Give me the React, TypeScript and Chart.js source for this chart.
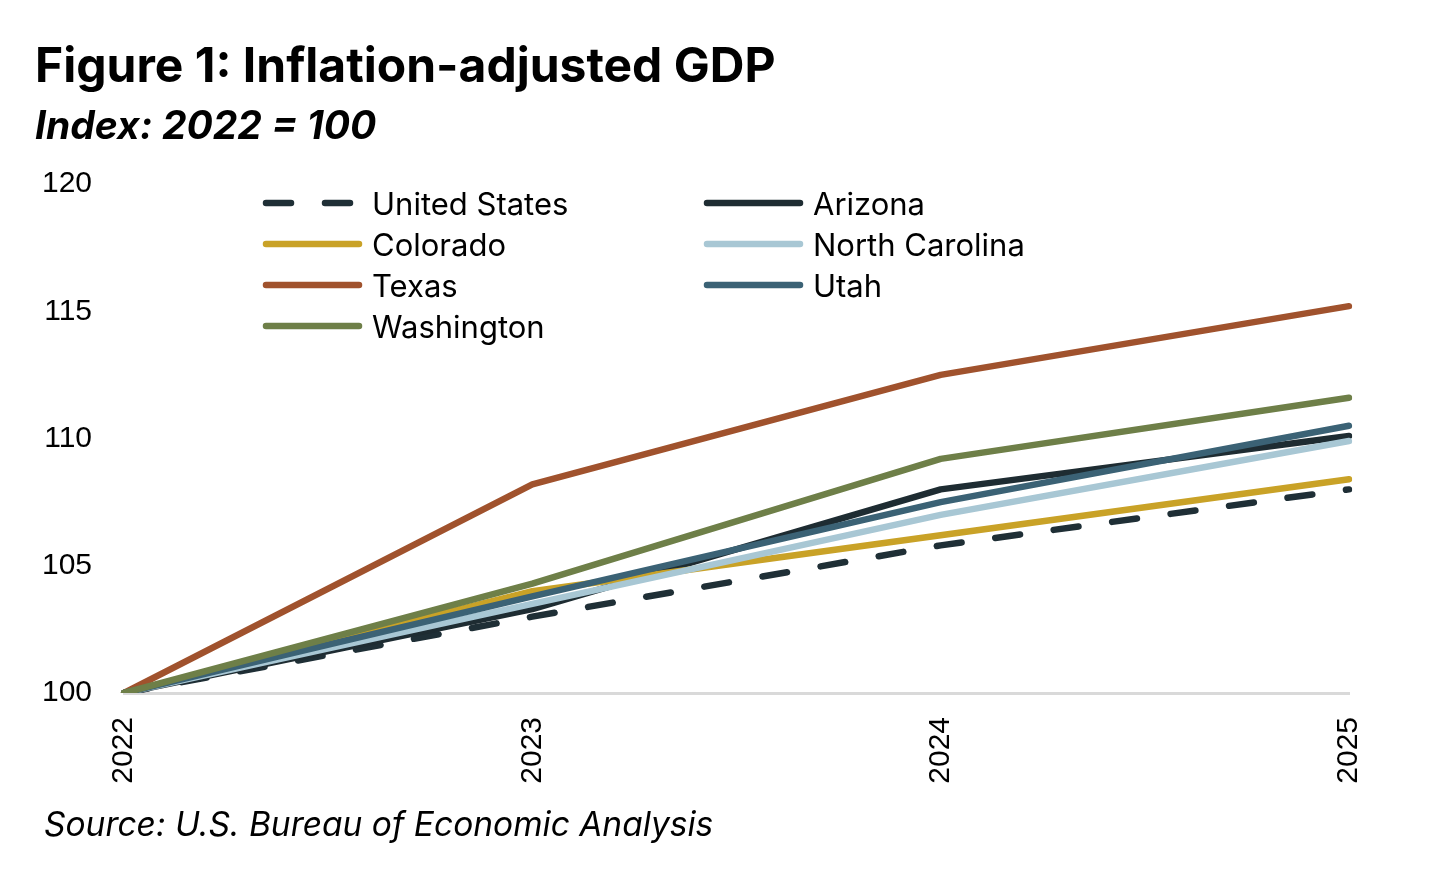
import { useEffect, useRef } from "react";
import { Chart, registerables } from "chart.js";

Chart.register(...registerables);

const YEARS = ["2022", "2023", "2024", "2025"];
const UNITED_STATES = [100, 103.0, 105.8, 108.0];
const ARIZONA = [100, 103.3, 108.0, 110.1];
const COLORADO = [100, 104.0, 106.2, 108.4];
const NORTH_CAROLINA = [100, 103.5, 107.0, 109.9];
const TEXAS = [100, 108.2, 112.5, 115.2];
const UTAH = [100, 103.8, 107.5, 110.5];
const WASHINGTON = [100, 104.3, 109.2, 111.6];
const Y_TICKS = [100, 105, 110, 115, 120];

// legend order (row by row, two columns) = drawing order, last on top
const SERIES = [
  { label: "United States", data: UNITED_STATES, color: "#1f2f36", dashed: true },
  { label: "Arizona", data: ARIZONA, color: "#1e2c32", dashed: false },
  { label: "Colorado", data: COLORADO, color: "#c9a227", dashed: false },
  { label: "North Carolina", data: NORTH_CAROLINA, color: "#a8c7d4", dashed: false },
  { label: "Texas", data: TEXAS, color: "#a0522d", dashed: false },
  { label: "Utah", data: UTAH, color: "#3b6275", dashed: false },
  { label: "Washington", data: WASHINGTON, color: "#6e7f48", dashed: false },
];

const LINE_W = 6.5;
const TICK_FONT = { family: "'Liberation Sans', Arial, sans-serif", size: 30 };
const TEXT_FONT = "Inter, 'Noto Sans', sans-serif";

function LegendSwatch({ color, dashed }: { color: string; dashed: boolean }) {
  return (
    <svg width={102} height={12} style={{ display: "block" }}>
      <line
        x1={4}
        y1={6}
        x2={97}
        y2={6}
        stroke={color}
        strokeWidth={LINE_W}
        strokeLinecap="round"
        strokeDasharray={dashed ? "25 34" : undefined}
      />
    </svg>
  );
}

export default function App() {
  const canvasRef = useRef<HTMLCanvasElement>(null);

  useEffect(() => {
    if (!canvasRef.current) return;
    const chart = new Chart(canvasRef.current, {
      type: "line",
      data: {
        labels: YEARS,
        datasets: SERIES.map((s, i) => ({
          label: s.label,
          data: s.data,
          borderColor: s.color,
          backgroundColor: s.color,
          borderWidth: LINE_W,
          borderDash: s.dashed ? [25, 34] : [],
          borderCapStyle: "round" as const,
          borderJoinStyle: "round" as const,
          pointRadius: 0,
          tension: 0,
          order: SERIES.length - i,
        })),
      },
      options: {
        animation: false,
        responsive: false,
        maintainAspectRatio: false,
        layout: { padding: { top: 184, right: 101, bottom: 83, left: 0 } },
        plugins: { legend: { display: false }, tooltip: { enabled: false } },
        scales: {
          x: {
            offset: false,
            grid: { display: false, drawTicks: false },
            border: { display: true, color: "#d9d9d9", width: 3 },
            ticks: {
              color: "#000",
              font: TICK_FONT,
              padding: 24,
              maxRotation: 90,
              minRotation: 90,
            },
            afterFit: (s) => {
              s.height = 100;
            },
          },
          y: {
            min: 100,
            max: 120,
            afterBuildTicks: (s) => {
              s.ticks = Y_TICKS.map((v) => ({ value: v }));
            },
            grid: { display: false, drawTicks: false },
            border: { display: false },
            ticks: { color: "#000", font: TICK_FONT, padding: 32 },
            afterFit: (s) => {
              s.width = 124;
            },
          },
        },
      },
    });
    return () => chart.destroy();
  }, []);

  return (
    <div
      style={{
        position: "fixed",
        left: 0,
        top: 0,
        width: 1450,
        height: 876,
        background: "#fff",
        overflow: "hidden",
      }}
    >
      <canvas
        ref={canvasRef}
        width={1450}
        height={876}
        style={{ position: "absolute", left: 0, top: 0, width: 1450, height: 876 }}
      />
      <div
        style={{
          position: "absolute",
          left: 35,
          top: 38,
          fontFamily: TEXT_FONT,
          fontWeight: 700,
          fontSize: 48,
          lineHeight: "54px",
          color: "#000",
          whiteSpace: "nowrap",
        }}
      >
        Figure 1: Inflation-adjusted GDP
      </div>
      <div
        style={{
          position: "absolute",
          left: 35,
          top: 102,
          fontFamily: TEXT_FONT,
          fontWeight: 700,
          fontStyle: "italic",
          fontSize: 39,
          lineHeight: "46px",
          color: "#000",
          whiteSpace: "nowrap",
        }}
      >
        Index: 2022 = 100
      </div>
      {SERIES.map((s, i) => {
        const col = i % 2;
        const row = Math.floor(i / 2);
        return (
          <div
            key={s.label}
            style={{
              position: "absolute",
              left: col === 0 ? 262 : 703,
              top: 203 + row * 41 - 20,
              height: 40,
              display: "flex",
              alignItems: "center",
              fontFamily: TEXT_FONT,
              fontSize: 31,
              color: "#000",
              whiteSpace: "nowrap",
            }}
          >
            <LegendSwatch color={s.color} dashed={s.dashed} />
            <span style={{ marginLeft: 8 }}>{s.label}</span>
          </div>
        );
      })}
      <div
        style={{
          position: "absolute",
          left: 44,
          top: 804,
          fontFamily: TEXT_FONT,
          fontStyle: "italic",
          fontSize: 33.5,
          lineHeight: "40px",
          color: "#000",
          whiteSpace: "nowrap",
        }}
      >
        Source: U.S. Bureau of Economic Analysis
      </div>
    </div>
  );
}
